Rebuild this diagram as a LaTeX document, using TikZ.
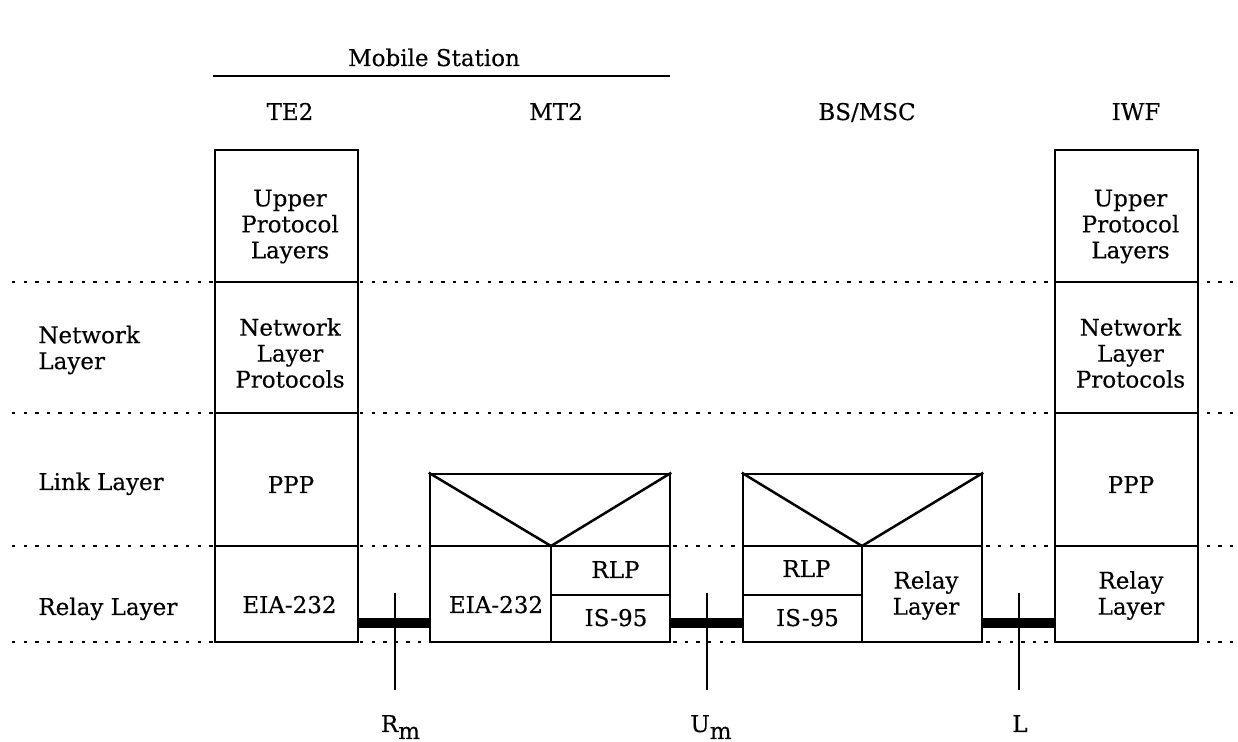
\documentclass[tikz,border=0pt]{standalone}
\usepackage{fontspec}
\setmainfont{DejaVu Serif}[FakeBold=0.35]
\begin{document}
\begin{tikzpicture}[x=0.5pt,y=-0.5pt,
  txt/.style={inner sep=0pt, font=\fontsize{11.5}{13}\selectfont},
  stackbox/.style={draw, line width=1.25pt, inner sep=0pt, minimum width=71.5pt, minimum height=246pt},
  entity/.style={draw, line width=1.25pt, inner sep=0pt, minimum height=84pt},
  rule/.style={line width=1.25pt},
  layerline/.style={line width=1.3pt, dash pattern=on 1.7pt off 4.1pt},
  link/.style={line width=5pt},
  refpoint/.style={line width=1.25pt}]

\useasboundingbox (0,0) rectangle (1238,742);

% layer boundaries
\foreach \yy in {282,413,546,642}
  \draw[layerline] (12,\yy) -- (1238,\yy);

% end-system protocol stacks
\node[stackbox] (te2) at (286.5,396) {};
\node[stackbox] (iwf) at (1126.5,396) {};
\foreach \s in {te2,iwf}
  \foreach \yy in {282,413,546}
    \draw[rule] (\s.west |- 0,\yy) -- (\s.east |- 0,\yy);

% MT2 relay entity
\node[entity, minimum width=120pt] (mt2) at (550,558) {};
\coordinate (mt2v) at (551,546);
\draw[rule] (mt2.west |- mt2v) -- (mt2.east |- mt2v);
\draw[rule] (mt2.north west) -- (mt2v) -- (mt2.north east);
\draw[rule] (mt2v) -- (mt2v |- mt2.south);
\draw[rule] (mt2v |- 0,595) -- (mt2.east |- 0,595);

% BS/MSC relay entity
\node[entity, minimum width=119.5pt] (bsc) at (862.5,558) {};
\coordinate (bscv) at (862,546);
\draw[rule] (bsc.west |- bscv) -- (bsc.east |- bscv);
\draw[rule] (bsc.north west) -- (bscv) -- (bsc.north east);
\draw[rule] (bscv) -- (bscv |- bsc.south);
\draw[rule] (bsc.west |- 0,595) -- (bscv |- 0,595);

% headings
\node[txt, anchor=base] (msLbl) at (434,66) {Mobile Station};
\draw[line width=1.3pt] (213,76) -- (670,76);
\node[txt, anchor=base] (te2Lbl) at (290,120) {TE2};
\node[txt, anchor=base] (mt2Lbl) at (556,120) {MT2};
\node[txt, anchor=base] (bscLbl) at (867,120) {BS/MSC};
\node[txt, anchor=base] (iwfLbl) at (1136,120) {IWF};

% layer names
\node[txt, anchor=west, align=left] (netLbl) at (38,350) {Network\\Layer};
\node[txt, anchor=base west] (linkLbl) at (38,490) {Link Layer};
\node[txt, anchor=base west] (relayLbl) at (38,615) {Relay Layer};

% TE2 stack contents
\node[txt, align=center] (te2Up) at (290,226.5) {Upper\\Protocol\\Layers};
\node[txt, align=center] (te2Net) at (290,353) {Network\\Layer\\Protocols};
\node[txt, anchor=base] (te2Ppp) at (291,493) {PPP};
\node[txt, anchor=base] (te2Eia) at (289.5,613) {EIA-232};

% IWF stack contents
\node[txt, align=center] (iwfUp) at (1130.5,226.5) {Upper\\Protocol\\Layers};
\node[txt, align=center] (iwfNet) at (1130.5,353) {Network\\Layer\\Protocols};
\node[txt, anchor=base] (iwfPpp) at (1131,493) {PPP};
\node[txt, align=center] (iwfRelay) at (1131,595.5) {Relay\\Layer};

% MT2 contents
\node[txt, anchor=base] (mt2Eia) at (496,613) {EIA-232};
\node[txt, anchor=base] (mt2Rlp) at (615.5,578) {RLP};
\node[txt, anchor=base] (mt2Is) at (616,626) {IS-95};

% BS/MSC contents
\node[txt, anchor=base] (bscRlp) at (806.5,577) {RLP};
\node[txt, anchor=base] (bscIs) at (807.5,626) {IS-95};
\node[txt, align=center] (bscRelay) at (926,595.5) {Relay\\Layer};

% physical links between entities
\coordinate (barY) at (0,623);
\draw[link] (te2.east |- barY) -- (mt2.west |- barY);
\draw[link] (mt2.east |- barY) -- (bsc.west |- barY);
\draw[link] (bsc.east |- barY) -- (iwf.west |- barY);

% reference points
\node[txt, anchor=base] (rmLbl) at (400.5,732) {R\raisebox{-3.5pt}{m}};
\node[txt, anchor=base] (umLbl) at (711,732) {U\raisebox{-3.5pt}{m}};
\node[txt, anchor=base] (lLbl) at (1020,732) {L};
\coordinate (rmTop) at (395,593);
\coordinate (rmBot) at (395,690);
\coordinate (umTop) at (707,593);
\coordinate (umBot) at (707,690);
\coordinate (lTop) at (1019,593);
\coordinate (lBot) at (1019,690);
\draw[refpoint] (rmTop) -- (rmBot);
\draw[refpoint] (umTop) -- (umBot);
\draw[refpoint] (lTop) -- (lBot);
\end{tikzpicture}
\end{document}
